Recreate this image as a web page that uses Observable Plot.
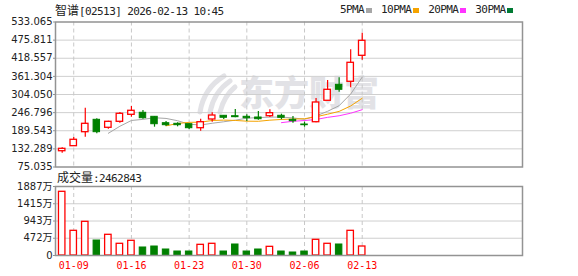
<!DOCTYPE html>
<html><head><meta charset="utf-8">
<script src="https://cdn.jsdelivr.net/npm/d3@7"></script>
<script src="https://cdn.jsdelivr.net/npm/@observablehq/plot@0.6"></script>
<style>
body{margin:0;background:#fff;}
#wrap{position:relative;width:578px;height:276px;overflow:hidden;background:#fff;}
#wrap svg.chart{position:absolute;left:0;top:0;}
.t{position:absolute;font-family:"DejaVu Sans Mono","Noto Sans CJK SC",monospace;font-size:11px;letter-spacing:-0.6px;color:#222;line-height:14px;white-space:nowrap;}
.cjk{font-family:"Noto Sans CJK SC",sans-serif;font-size:12px;letter-spacing:0;}
#legend{position:absolute;left:340px;top:3px;display:flex;align-items:center;height:14px;}
#legend .it{display:flex;align-items:center;margin-right:9px;}
#legend .sq{display:inline-block;width:6px;height:5px;margin-left:2px;}
#wm{position:absolute;left:239px;top:73px;font-family:"Noto Sans CJK SC",sans-serif;font-weight:900;font-size:35px;line-height:36px;color:#e2e2e6;letter-spacing:0px;white-space:nowrap;}
#wmlogo{position:absolute;left:196px;top:72px;}
</style></head><body>
<div id="wrap">
  <svg id="wmlogo" width="44" height="44" viewBox="0 0 44 44">
    <g fill="none" stroke="#e2e2e6" stroke-width="5" stroke-linecap="round">
      <path d="M4,40 Q8,16 28,4"/>
      <path d="M14,40 Q18,20 34,9"/>
      <path d="M24,40 Q28,24 39,15"/>
    </g>
  </svg>
  <div id="wm">东方财富</div>
  <div class="t" style="left:55px;top:3px;"><span class="cjk">智谱</span>[02513] 2026-02-13 10:45</div>
  <div id="legend" class="t"></div>
  <div class="t" style="left:57px;top:170px;"><span class="cjk">成交量</span>:2462843</div>
</div>
<script>
// ---- data ----
const dates = ["01-08","01-09","01-12","01-13","01-14","01-15","01-16","01-19","01-20","01-21","01-22","01-23","01-26","01-27","01-28","01-29","01-30","02-02","02-03","02-04","02-05","02-06","02-09","02-10","02-11","02-12","02-13"];
const open  = [124.9,140.8,185.0,224.1,198.9,217.8,239.9,246.3,233.6,213.4,211.5,210.2,197.6,225.1,236.8,235.5,233.6,231.4,235.5,236.8,224.1,209.3,216.5,284.2,334.7,344.2,426.3];
const high  = [135.7,168.2,260.8,227.3,219.7,247.2,266.2,253.5,234.6,218.8,214.7,211.5,226.0,246.3,237.5,256.7,239.9,250.4,255.8,241.8,234.6,216.5,291.4,348.3,356.8,445.3,497.7];
const low   = [118.6,140.8,169.2,179.9,194.4,213.4,232.4,226.0,200.8,203.0,202.0,193.5,188.2,216.5,225.1,230.5,218.8,222.9,231.4,224.1,213.4,200.8,215.0,284.2,311.4,325.2,412.4];
const close = [132.5,161.0,211.5,185.0,217.8,243.1,252.6,229.2,210.2,207.1,207.1,197.6,216.5,237.7,230.5,232.4,229.2,226.0,245.0,230.5,219.7,207.1,278.8,318.9,318.9,404.2,473.7];
// volume in 万
const volume = [1742,675,921,410,566,320,402,219,246,164,109,109,292,320,109,301,109,164,237,109,82,109,429,320,301,675,246];
const priceTicks = [75.035,132.289,189.543,246.796,304.050,361.304,418.557,475.811,533.065];
const volTicks = [0,472,943,1415,1887];
const tickDates = ["01-09","01-16","01-23","01-30","02-06","02-13"];
const maNames = ["5PMA","10PMA","20PMA","30PMA"];
const maWindows = [5,10,20,30];
const maColors = ["#a6a6a6","#f5a300","#ff33ff","#007a33"];

const RED = "#ff0000", GREEN = "#008000";
const rows = dates.map((d,i)=>({i, date:d, open:open[i], high:high[i], low:low[i], close:close[i], vol:volume[i], up: close[i] >= open[i]}));
const upRows = rows.filter(d=>d.up), downRows = rows.filter(d=>!d.up);
const tickIdx = tickDates.map(d=>dates.indexOf(d));
const W = 0.28;
const xDomain = [-0.58, 39.89];

// legend
const leg = document.getElementById("legend");
maNames.forEach((n,k)=>{
  const it = document.createElement("span"); it.className="it";
  it.innerHTML = `<span>${n}</span><span class="sq" style="background:${maColors[k]}"></span>`;
  leg.appendChild(it);
});

const baseStyle = {background:"none", overflow:"visible"};
const frameColor = "#939393";

const upper = Plot.plot({
  width:578, height:276,
  marginLeft:55, marginRight:56, marginTop:21.5, marginBottom:109.5,
  x:{domain:xDomain, axis:null},
  y:{domain:[priceTicks[0], priceTicks[priceTicks.length-1]], label:null},
  style: baseStyle,
  marks:[
    Plot.gridY(priceTicks.slice(1,-1), {stroke:"#cfcfcf", strokeOpacity:1, strokeWidth:1}),
    Plot.gridX(tickIdx, {stroke:"#c8c8c8", strokeOpacity:1, strokeDasharray:"4,3"}),
    Plot.axisY(priceTicks, {anchor:"left", tickSize:2, tickPadding:1, tickFormat:d=>d.toFixed(3), fontFamily:"DejaVu Sans", fontSize:10, fill:"#222", stroke:frameColor, label:null}),
    ...maWindows.slice(0,3).map((k,j)=>Plot.lineY(rows, Plot.windowY({k, anchor:"end", reduce:"mean", strict:true}, {x:"i", y:"close", stroke:maColors[j], strokeWidth:1}))),
    Plot.ruleX(upRows, {x:"i", y1:"low", y2:"high", stroke:RED, strokeWidth:1.2}),
    Plot.ruleX(downRows, {x:"i", y1:"low", y2:"high", stroke:GREEN, strokeWidth:1.2}),
    Plot.rect(upRows, {x1:d=>d.i-W, x2:d=>d.i+W, y1:"open", y2:"close", fill:"#fff", stroke:RED, strokeWidth:1.3, inset:0}),
    Plot.rect(downRows, {x1:d=>d.i-W, x2:d=>d.i+W, y1:"open", y2:"close", fill:GREEN, stroke:GREEN, strokeWidth:1, inset:0}),
    Plot.frame({stroke:frameColor, strokeWidth:1.5})
  ]
});
upper.classList.add("chart");

const lower = Plot.plot({
  width:578, height:276,
  marginLeft:55, marginRight:56, marginTop:186, marginBottom:21,
  x:{domain:xDomain, label:null},
  y:{domain:[0, volTicks[volTicks.length-1]], label:null},
  style: baseStyle,
  marks:[
    Plot.gridY(volTicks.slice(1,-1), {stroke:"#cfcfcf", strokeOpacity:1, strokeWidth:1}),
    Plot.gridX(tickIdx, {stroke:"#c8c8c8", strokeOpacity:1, strokeDasharray:"4,3"}),
    Plot.axisY(volTicks, {anchor:"left", tickSize:2, tickPadding:1, tickFormat:d=>d===0?"0":d+"万", fontFamily:"DejaVu Sans, Noto Sans CJK SC", fontSize:10, fill:"#222", stroke:frameColor, label:null}),
    Plot.axisX(tickIdx, {anchor:"bottom", tickSize:0, tickPadding:6, tickFormat:i=>dates[i], fontFamily:"DejaVu Sans Mono", fontSize:10, fill:RED, label:null}),
    Plot.rect(upRows, {x1:d=>d.i-W, x2:d=>d.i+W, y1:0, y2:"vol", fill:"#fff", stroke:RED, strokeWidth:1.3, inset:0}),
    Plot.rect(downRows, {x1:d=>d.i-W, x2:d=>d.i+W, y1:0, y2:"vol", fill:GREEN, stroke:GREEN, strokeWidth:1, inset:0}),
    Plot.frame({stroke:frameColor, strokeWidth:1.5})
  ]
});
lower.classList.add("chart");

const wrap = document.getElementById("wrap");
wrap.appendChild(upper);
wrap.appendChild(lower);
</script>
</body></html>
